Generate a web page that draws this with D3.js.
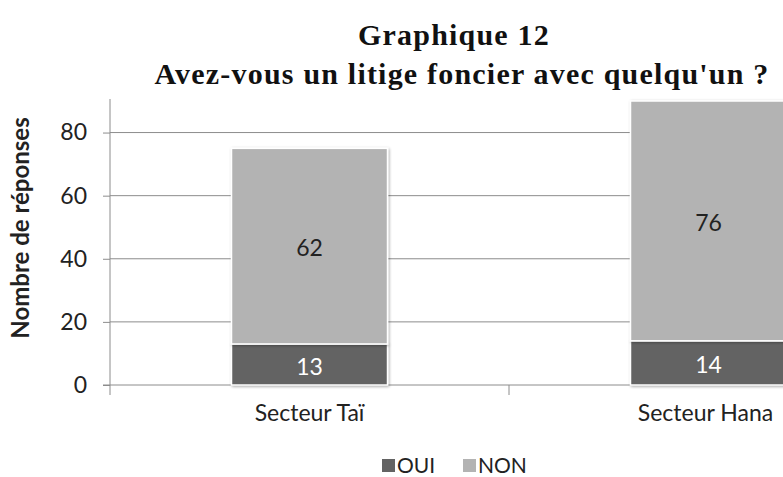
<!DOCTYPE html>
<html>
<head>
<meta charset="utf-8">
<script src="https://cdn.jsdelivr.net/npm/d3@7"></script>
<style>
  body { margin: 0; background: #fff; }
  svg { display: block; }
</style>
</head>
<body>
<div id="chart"></div>
<script>
// données
const secteurs = ["Secteur Taï", "Secteur Hana"];
const oui = [13, 14];
const non = [62, 76];
const series = ["OUI", "NON"];
const yTicks = [0, 20, 40, 60, 80];

const width = 783, height = 477;
const margin = { top: 101, left: 110, bottom: 92 };
const bandW = 399;
const sans = "Lato, 'Open Sans', sans-serif";

const svg = d3.select("#chart").append("svg")
  .attr("width", width)
  .attr("height", height);

svg.append("defs").append("filter").attr("id", "shadow")
  .attr("x", "-10%").attr("y", "-10%").attr("width", "130%").attr("height", "130%")
  .html(`<feGaussianBlur in="SourceAlpha" stdDeviation="1.5"/>
         <feOffset dx="1" dy="1" result="b"/>
         <feComponentTransfer><feFuncA type="linear" slope="0.35"/></feComponentTransfer>
         <feMerge><feMergeNode/><feMergeNode in="SourceGraphic"/></feMerge>`);

const x = d3.scaleBand()
  .domain(secteurs)
  .range([margin.left, margin.left + bandW * secteurs.length]);

const y = d3.scaleLinear()
  .domain([0, 90])
  .range([height - margin.bottom, margin.top]);

const color = d3.scaleOrdinal().domain(series).range(["#636363", "#b3b3b3"]);

// titre
const title = svg.append("text")
  .attr("text-anchor", "middle")
  .style("font-family", "'Liberation Serif', serif")
  .style("font-weight", "bold")
  .style("font-size", "30px")
  .style("letter-spacing", "1.2px")
  .attr("fill", "#111");
title.append("tspan").attr("x", 454).attr("y", 45).text("Graphique 12");
title.append("tspan").attr("x", 462).attr("y", 84).text("Avez-vous un litige foncier avec quelqu'un ?");

// grille horizontale
svg.append("g")
  .selectAll("line")
  .data(yTicks.slice(1))
  .join("line")
  .attr("x1", margin.left).attr("x2", width)
  .attr("y1", d => y(d)).attr("y2", d => y(d))
  .attr("stroke", "#8c8c8c").attr("stroke-width", 1);

// axe y
const yAxis = svg.append("g")
  .attr("transform", `translate(${margin.left},0)`)
  .call(d3.axisLeft(y).tickValues(yTicks).tickSize(7).tickPadding(16))
  .style("font-family", sans)
  .style("font-size", "23px");
yAxis.select(".domain").attr("d", `M0,${margin.top - 2}V${y(0) + 10}`).attr("stroke", "#8c8c8c");
yAxis.selectAll(".tick line").attr("stroke", "#8c8c8c");
yAxis.selectAll(".tick text").attr("fill", "#222");

// axe x
const xAxis = svg.append("g")
  .attr("transform", `translate(0,${y(0)})`);
xAxis.append("line")
  .attr("x1", margin.left - 7).attr("x2", width)
  .attr("stroke", "#8c8c8c");
xAxis.selectAll("line.sep")
  .data(secteurs)
  .join("line")
  .attr("class", "sep")
  .attr("x1", d => x(d) + x.bandwidth()).attr("x2", d => x(d) + x.bandwidth())
  .attr("y1", 0).attr("y2", 10)
  .attr("stroke", "#8c8c8c");
xAxis.selectAll("text")
  .data(secteurs)
  .join("text")
  .attr("x", d => x(d) + x.bandwidth() / 2 + (d === "Secteur Hana" ? -3 : 0))
  .attr("y", 36)
  .attr("text-anchor", "middle")
  .style("font-family", sans)
  .style("font-size", "23px")
  .attr("fill", "#222")
  .text(d => d);

// barres empilées
const rows = secteurs.map((s, i) => ({ secteur: s, OUI: oui[i], NON: non[i] }));
const stack = d3.stack().keys(series)(rows);
const barW = 156;

const layers = svg.append("g")
  .selectAll("g")
  .data(stack)
  .join("g")
  .attr("fill", d => color(d.key));

layers.selectAll("rect")
  .data(d => d.map(p => ({ key: d.key, p })))
  .join("rect")
  .attr("x", d => x(d.p.data.secteur) + (x.bandwidth() - barW) / 2)
  .attr("y", d => y(d.p[1]))
  .attr("width", barW)
  .attr("height", d => y(d.p[0]) - y(d.p[1]))
  .attr("stroke", "#fff")
  .attr("stroke-width", 1.5)
  .attr("filter", "url(#shadow)");

layers.selectAll("text")
  .data(d => d.map(p => ({ key: d.key, p })))
  .join("text")
  .attr("x", d => x(d.p.data.secteur) + x.bandwidth() / 2)
  .attr("y", d => (y(d.p[0]) + y(d.p[1])) / 2 + 2)
  .attr("dy", "0.36em")
  .attr("text-anchor", "middle")
  .style("font-family", sans)
  .style("font-size", "23px")
  .attr("fill", d => d.key === "OUI" ? "#fff" : "#222")
  .text(d => d.p[1] - d.p[0]);

// titre axe y
svg.append("text")
  .attr("transform", `translate(29,228) rotate(-90)`)
  .attr("text-anchor", "middle")
  .style("font-family", sans)
  .style("font-weight", "bold")
  .style("font-size", "24px")
  .attr("fill", "#222")
  .text("Nombre de réponses");

// légende
const legend = svg.append("g").attr("transform", "translate(382,473)");
const items = legend.selectAll("g")
  .data(series)
  .join("g")
  .attr("transform", (d, i) => `translate(${i * 81},0)`);
items.append("rect")
  .attr("x", 0).attr("y", -14).attr("width", 13).attr("height", 13)
  .attr("fill", d => color(d));
items.append("text")
  .attr("x", 15).attr("y", 0)
  .style("font-family", sans)
  .style("font-size", "21px")
  .attr("fill", "#222")
  .text(d => d);
</script>
</body>
</html>
